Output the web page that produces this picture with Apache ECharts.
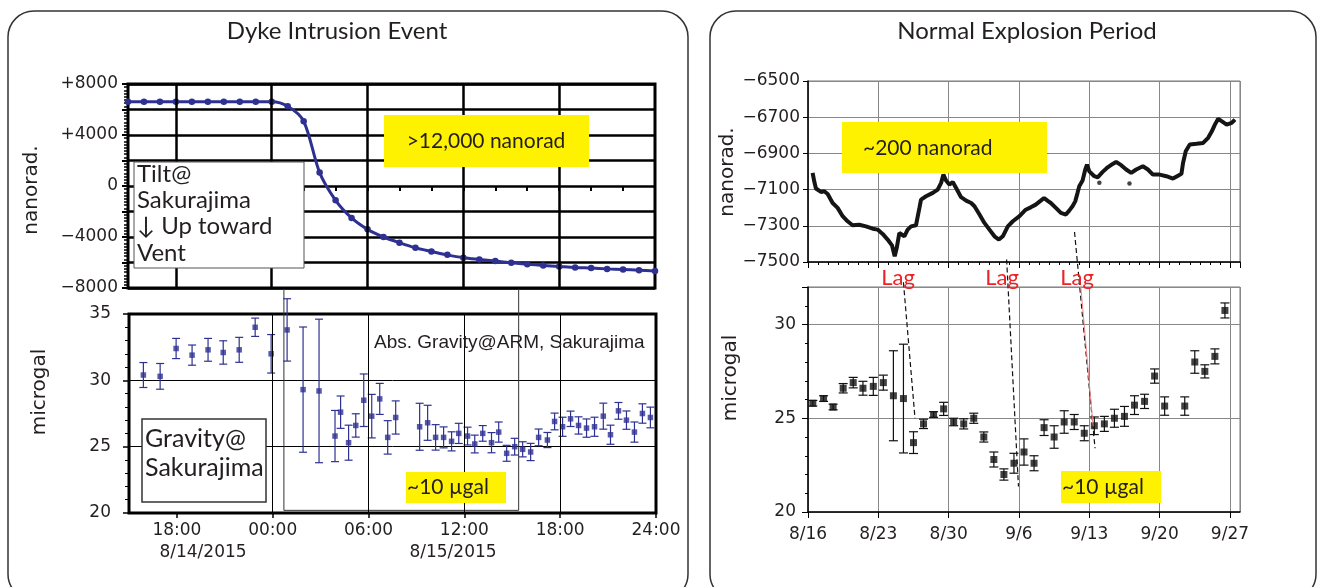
<!DOCTYPE html>
<html>
<head>
<meta charset="utf-8">
<script src="https://cdn.jsdelivr.net/npm/echarts@6/dist/echarts.min.js"></script>
<style>
  html, body { margin: 0; padding: 0; background: #fff; }
  #chart { width: 1324px; height: 587px; }
</style>
</head>
<body>
<div id="chart"></div>
<script>
// ---------- left panel: dyke intrusion (hours counted from 8/14/2015 00:00)
const tiltHours = [15, 16, 17, 18, 19, 20, 21, 22, 23, 24, 25, 26, 27, 28, 29, 30, 31,
  32, 33, 34, 35, 36, 37, 38, 39, 40, 41, 42, 43, 44, 45, 46, 47, 48];
const tiltNanorad = [6600, 6600, 6600, 6600, 6600, 6600, 6600, 6600, 6600, 6600, 6250, 5080,
  1050, -1120, -2500, -3400, -4000, -4450, -4850, -5130, -5400, -5620, -5760, -5890, -6020,
  -6130, -6230, -6310, -6390, -6440, -6500, -6550, -6600, -6660];

const gravHours = [15.9, 16.95, 17.95, 18.95, 19.95, 20.9, 21.9, 22.9, 23.9, 24.9, 25.9, 26.9,
  27.9, 28.25, 28.75, 29.2, 29.7, 30.2, 30.7, 31.2, 31.7, 33.2, 33.7, 34.2, 34.7, 35.2, 35.65,
  36.2, 36.65, 37.15, 37.7, 38.15, 38.65, 39.15, 39.65, 40.15, 40.65, 41.2, 41.65, 42.15, 42.65,
  43.15, 43.65, 44.15, 44.7, 45.15, 45.65, 46.15, 46.65, 47.15, 47.65];
const gravMicrogal = [30.4, 30.3, 32.4, 31.9, 32.3, 32.1, 32.3, 34.0, 32.0, 33.8, 29.3, 29.2,
  25.8, 27.6, 25.3, 26.6, 28.5, 27.3, 28.6, 25.7, 27.2, 26.5, 26.8, 25.7, 25.7, 25.4, 26.0,
  25.8, 25.2, 26.0, 25.3, 26.1, 24.5, 25.0, 24.8, 24.6, 25.7, 25.5, 26.9, 26.5, 27.1,
  26.6, 26.4, 26.5, 27.3, 25.9, 27.7, 27.0, 26.1, 27.5, 27.2];
const gravErr = [0.94, 0.97, 0.76, 0.76, 0.86, 0.88, 0.94, 0.69, 1.45, 2.35, 4.72, 5.41,
  1.93, 1.22, 1.32, 0.88, 1.98, 1.64, 1.17, 1.26, 1.25, 1.77, 1.32, 0.96, 0.79, 0.72, 0.76,
  0.67, 0.67, 0.59, 0.76, 0.76, 0.6, 0.63, 0.57, 0.65, 0.63, 0.57, 0.63, 0.72, 0.58,
  0.65, 0.69, 0.72, 0.98, 0.72, 0.63, 0.69, 0.76, 0.73, 0.78];

const hourLabels = [18, 24, 30, 36, 42, 48];
const hourTicks = [16, 18, 20, 22, 24, 26, 28, 30, 32, 34, 36, 38, 40, 42, 44, 46];
const tiltHourGrid = [18, 24, 30, 36, 42];
const gravHourGrid = [24, 30, 36, 42];
const dateLabels = ['8/14/2015', '8/15/2015'];
// frame left over from the original figure: [fromHour, bottom, toHour, top]
const oldFrame = [24.7, 20.2, 39.4, 36.9];

// ---------- right panel: normal explosion period (days counted from 8/16/2015)
const tiltDays = [0.46, 0.62, 0.79, 1.29, 1.62, 1.96, 2.45, 2.95, 3.45, 3.94, 4.44, 5.1, 5.77,
  6.44, 6.93, 7.43, 7.93, 8.36, 8.63, 8.83, 9.09, 9.59, 9.92, 10.26, 10.75, 11.09, 11.25,
  11.75, 12.42, 12.91, 13.25, 13.48, 13.74, 14.07, 14.41, 14.74, 15.24, 15.74, 16.24, 16.57,
  17.07, 17.56, 18.06, 18.56, 19.0, 19.39, 19.89, 20.39, 21.05, 21.67, 22.17, 22.67, 23.17,
  23.5, 23.83, 24.17, 24.67, 25.17, 25.67, 26.0, 26.33, 26.6, 26.83, 27.0, 27.33, 27.6,
  27.77, 28.0, 28.5, 28.83, 29.33, 29.83, 30.33, 30.67, 31.17, 31.67, 32.17, 32.67, 33.33,
  33.83, 34.33, 35.0, 35.67, 36.33, 36.83, 37.17, 37.33, 37.6, 38.0, 38.67, 39.33, 39.83,
  40.17, 40.5, 40.83, 41.17, 41.67, 42.17, 42.5];
const tiltDayNanorad = [-7008, -7054, -7094, -7113, -7109, -7124, -7174, -7201, -7247, -7275,
  -7297, -7294, -7303, -7316, -7321, -7345, -7376, -7408, -7469, -7423, -7340, -7358, -7321,
  -7303, -7297, -7201, -7155, -7137, -7118, -7100, -7063, -7017, -7050, -7072, -7058, -7091,
  -7142, -7161, -7174, -7192, -7238, -7284, -7321, -7358, -7376, -7358, -7303, -7275, -7247,
  -7211, -7198, -7183, -7161, -7146, -7161, -7174, -7201, -7229, -7238, -7216, -7192, -7165,
  -7118, -7082, -7050, -6989, -6962, -6999, -7026, -7032, -7002, -6977, -6958, -6947, -6965,
  -6989, -7008, -6989, -6971, -6989, -7017, -7017, -7026, -7039, -7023, -7013, -6953, -6888,
  -6851, -6847, -6842, -6814, -6781, -6741, -6709, -6722, -6741, -6731, -6713];
const tiltOutlierDays = [29.0, 32.0];
const tiltOutlierNanorad = [-7062, -7066];

const gravDays = [0.48, 1.55, 2.5, 3.5, 4.5, 5.47, 6.5, 7.5, 8.5, 9.5, 10.5, 11.5, 12.5, 13.5,
  14.5, 15.5, 16.5, 17.5, 18.5, 19.5, 20.5, 21.5, 22.5, 23.5, 24.5, 25.5, 26.5, 27.5, 28.5,
  29.5, 30.5, 31.5, 32.5, 33.5, 34.5, 35.5, 37.5, 38.5, 39.5, 40.5, 41.5];
const gravDayMicrogal = [25.8, 26.05, 25.6, 26.6, 26.9, 26.6, 26.7, 26.9, 26.2, 26.05, 23.7,
  24.7, 25.2, 25.5, 24.8, 24.7, 25.0, 24.0, 22.8, 22.0, 22.6, 23.2, 22.6, 24.5, 24.0, 24.8,
  24.8, 24.2, 24.6, 24.7, 25.0, 25.1, 25.7, 25.9, 27.25, 25.65, 25.65, 28.0, 27.5, 28.3, 30.75];
const gravDayErr = [0.15, 0.15, 0.15, 0.25, 0.28, 0.37, 0.48, 0.4, 2.4, 2.9, 0.58, 0.25, 0.15,
  0.35, 0.2, 0.27, 0.27, 0.27, 0.4, 0.3, 0.53, 0.7, 0.4, 0.42, 0.6, 0.6, 0.4, 0.4, 0.47, 0.4,
  0.48, 0.53, 0.5, 0.38, 0.38, 0.49, 0.49, 0.6, 0.35, 0.4, 0.4];

// dashed "Lag" connectors, [day, microgal] ends (run up into the tilt plot)
const lagLines = [
  [[9.5, 32.25], [10.65, 25.0]],
  [[19.77, 33.47], [20.95, 21.36]],
  [[26.53, 34.93], [28.57, 23.4]]
];
const lagRedLine = [[27.16, 32.0], [28.38, 24.57]];

const BLUE = '#2e3192';
const INK = '#231f20';
const AXIS_FONT = 'DejaVu Sans';
const NOTE_FONT = 'Lato';

function hourLabel(v) {
  if (v === 48) return '24:00';
  const h = v % 24;
  return (h < 10 ? '0' : '') + h + ':00';
}
function dayLabel(v) {
  const d = new Date(2015, 7, 16 + v);
  return (d.getMonth() + 1) + '/' + d.getDate();
}
function tiltLabel(v) {
  if (v % 4000 !== 0) return '';
  if (v === 0) return '0';
  return (v > 0 ? '+' : '\u2212') + Math.abs(v);
}

function errorBars(color, cap) {
  return function (params, api) {
    const x = api.value(0);
    const top = api.coord([x, api.value(2)]);
    const bot = api.coord([x, api.value(1)]);
    const st = { stroke: color, lineWidth: 1.2 };
    return {
      type: 'group',
      children: [
        { type: 'line', shape: { x1: top[0], y1: top[1], x2: bot[0], y2: bot[1] }, style: st },
        { type: 'line', shape: { x1: top[0] - cap, y1: top[1], x2: top[0] + cap, y2: top[1] }, style: st },
        { type: 'line', shape: { x1: bot[0] - cap, y1: bot[1], x2: bot[0] + cap, y2: bot[1] }, style: st }
      ]
    };
  };
}

function vLines(values, width) {
  return {
    silent: true,
    symbol: ['none', 'none'],
    label: { show: false },
    lineStyle: { color: '#000', width: width, type: 'solid' },
    data: values.map(v => ({ xAxis: v }))
  };
}

function note(x, y, text, size, extra) {
  return Object.assign({ type: 'text', z: 11, x: x, y: y,
    style: Object.assign({ text: text, align: 'center', verticalAlign: 'middle',
      fontFamily: NOTE_FONT, fontSize: size, fill: INK }, extra && extra.style) },
    extra && extra.el);
}

const zip = (a, b) => a.map((v, i) => [v, b[i]]);

var myChart = echarts.init(document.getElementById('chart'));

const option = {
  animation: false,
  backgroundColor: '#fff',
  grid: [
    { left: 128, top: 84, width: 527, height: 204, show: true, borderColor: '#000', borderWidth: 3 },
    { left: 129, top: 314, width: 527, height: 199, show: true, borderColor: '#000', borderWidth: 3 },
    { left: 808, top: 81, width: 432, height: 181, show: true, borderColor: '#777', borderWidth: 1 },
    { left: 808, top: 287, width: 432, height: 225, show: true, borderColor: '#777', borderWidth: 1 }
  ],
  xAxis: [
    {
      gridIndex: 0, type: 'value', min: 15, max: 48,
      axisLine: { show: false },
      axisTick: { show: true, customValues: hourTicks, length: 5, lineStyle: { color: '#000', width: 2 } },
      axisLabel: { show: false },
      splitLine: { show: false }
    },
    {
      gridIndex: 1, type: 'value', min: 15, max: 48,
      axisLine: { show: false },
      axisTick: { show: true, customValues: hourLabels, length: 5, lineStyle: { color: '#000', width: 1.5 } },
      axisLabel: {
        customValues: hourLabels, formatter: hourLabel, margin: 9,
        fontFamily: AXIS_FONT, fontSize: 17, color: INK
      },
      splitLine: { show: false }
    },
    {
      gridIndex: 2, type: 'value', min: 0, max: 43, interval: 7,
      axisLine: { lineStyle: { color: '#000', width: 1.5 } },
      axisTick: { length: 6, lineStyle: { color: '#000' } },
      minorTick: { show: true, splitNumber: 7, length: 3, lineStyle: { color: '#000' } },
      axisLabel: { show: false },
      splitLine: { lineStyle: { color: '#888', width: 1 } }
    },
    {
      gridIndex: 3, type: 'value', min: 0, max: 43, interval: 7,
      axisLine: { lineStyle: { color: '#000', width: 1.5 } },
      axisTick: { length: 6, lineStyle: { color: '#000' } },
      axisLabel: {
        formatter: dayLabel, showMaxLabel: false, margin: 14,
        fontFamily: AXIS_FONT, fontSize: 17, color: INK
      },
      splitLine: { lineStyle: { color: '#888', width: 1 } }
    }
  ],
  yAxis: [
    {
      gridIndex: 0, type: 'value', min: -8000, max: 8000, interval: 2000,
      axisLine: { show: false },
      axisTick: { length: 6, lineStyle: { color: '#000', width: 2 } },
      minorTick: { show: true, splitNumber: 8, length: 4, lineStyle: { color: '#000', width: 1.5 } },
      axisLabel: { formatter: tiltLabel, margin: 10, fontFamily: AXIS_FONT, fontSize: 17, color: INK },
      splitLine: { lineStyle: { color: '#000', width: 2.5 } }
    },
    {
      gridIndex: 1, type: 'value', min: 20, max: 35, interval: 5,
      axisLine: { show: false },
      axisTick: { length: 6, lineStyle: { color: '#000', width: 1.5 } },
      minorTick: { show: true, splitNumber: 5, length: 4, lineStyle: { color: '#000' } },
      axisLabel: { margin: 18, fontFamily: AXIS_FONT, fontSize: 17, color: INK },
      splitLine: { lineStyle: { color: '#000', width: 1 } }
    },
    {
      gridIndex: 2, type: 'value', min: -7500, max: -6500, interval: 200,
      axisLine: { lineStyle: { color: '#000', width: 1.5 } },
      axisTick: { length: 5, lineStyle: { color: '#000' } },
      axisLabel: {
        formatter: v => String(v).replace('-', '\u2212'), margin: 8,
        fontFamily: AXIS_FONT, fontSize: 17, color: INK
      },
      splitLine: { lineStyle: { color: '#888', width: 1 } }
    },
    {
      gridIndex: 3, type: 'value', min: 20, max: 32, interval: 5,
      axisLine: { lineStyle: { color: '#000', width: 1.5 } },
      axisTick: { length: 6, lineStyle: { color: '#000' } },
      minorTick: { show: true, splitNumber: 5, length: 3, lineStyle: { color: '#000' } },
      axisLabel: { showMaxLabel: false, margin: 12, fontFamily: AXIS_FONT, fontSize: 17, color: INK },
      splitLine: { lineStyle: { color: '#888', width: 1 } }
    }
  ],
  series: [
    // left tilt
    { type: 'line', xAxisIndex: 0, yAxisIndex: 0, data: [], z: 1, markLine: vLines(tiltHourGrid, 2.5) },
    {
      name: 'tilt', type: 'line', xAxisIndex: 0, yAxisIndex: 0, z: 3,
      data: zip(tiltHours, tiltNanorad), smooth: 0.3,
      symbol: 'circle', symbolSize: 6.5,
      itemStyle: { color: BLUE }, lineStyle: { color: BLUE, width: 3 }
    },
    // left gravity
    { type: 'line', xAxisIndex: 1, yAxisIndex: 1, data: [], z: 1, markLine: vLines(gravHourGrid, 1) },
    {
      type: 'custom', xAxisIndex: 1, yAxisIndex: 1, clip: false, z: 1, silent: true,
      data: [oldFrame],
      renderItem: function (params, api) {
        const a = api.coord([api.value(0), api.value(3)]);
        const b = api.coord([api.value(2), api.value(1)]);
        return {
          type: 'polyline',
          shape: { points: [[a[0], a[1]], [a[0], b[1]], [b[0], b[1]], [b[0], a[1]]] },
          style: { stroke: '#333', lineWidth: 1, fill: null }
        };
      }
    },
    {
      type: 'custom', xAxisIndex: 1, yAxisIndex: 1, clip: false, z: 3,
      encode: { x: 0, y: [1, 2] },
      data: gravHours.map((h, i) => [h, gravMicrogal[i] - gravErr[i], gravMicrogal[i] + gravErr[i]]),
      renderItem: errorBars(BLUE, 4)
    },
    {
      type: 'scatter', xAxisIndex: 1, yAxisIndex: 1, z: 4,
      data: zip(gravHours, gravMicrogal), symbol: 'rect', symbolSize: 5.5,
      itemStyle: { color: BLUE }
    },
    // right tilt
    {
      type: 'line', xAxisIndex: 2, yAxisIndex: 2, z: 3,
      data: zip(tiltDays, tiltDayNanorad), symbol: 'none',
      lineStyle: { color: '#151515', width: 4 }
    },
    {
      type: 'scatter', xAxisIndex: 2, yAxisIndex: 2, z: 3,
      data: zip(tiltOutlierDays, tiltOutlierNanorad), symbolSize: 4.5,
      itemStyle: { color: '#151515' }
    },
    // right gravity
    {
      type: 'custom', xAxisIndex: 3, yAxisIndex: 3, clip: false, z: 3,
      encode: { x: 0, y: [1, 2] },
      data: gravDays.map((d, i) => [d, gravDayMicrogal[i] - gravDayErr[i], gravDayMicrogal[i] + gravDayErr[i]]),
      renderItem: errorBars('#111', 4.5)
    },
    {
      type: 'scatter', xAxisIndex: 3, yAxisIndex: 3, z: 4,
      data: zip(gravDays, gravDayMicrogal), symbol: 'rect', symbolSize: 7,
      itemStyle: { color: '#111' }
    },
    ...lagLines.map(seg => ({
      type: 'line', xAxisIndex: 3, yAxisIndex: 3, clip: false, z: 5, silent: true,
      data: seg, symbol: 'none',
      lineStyle: { color: '#111', width: 1.2, type: [5, 3] }
    })),
    {
      type: 'line', xAxisIndex: 3, yAxisIndex: 3, clip: false, z: 5, silent: true,
      data: lagRedLine, symbol: 'none',
      lineStyle: { color: '#f08a8a', width: 1 }
    }
  ],
  graphic: [
    // panel frames
    { type: 'rect', z: 0, shape: { x: 8, y: 11, width: 680, height: 589, r: 26 },
      style: { fill: null, stroke: '#333', lineWidth: 1.5 } },
    { type: 'rect', z: 0, shape: { x: 710, y: 11, width: 606, height: 589, r: 26 },
      style: { fill: null, stroke: '#333', lineWidth: 1.5 } },
    // titles
    note(337, 31, 'Dyke Intrusion Event', 24),
    note(1027, 31, 'Normal Explosion Period', 24),
    // axis names
    note(32, 190, 'nanorad.', 20, { el: { rotation: Math.PI / 2 }, style: { fontFamily: AXIS_FONT } }),
    note(40, 392, 'microgal', 20, { el: { rotation: Math.PI / 2 }, style: { fontFamily: AXIS_FONT } }),
    note(728, 172, 'nanorad.', 20, { el: { rotation: Math.PI / 2 }, style: { fontFamily: AXIS_FONT } }),
    note(731, 378, 'microgal', 20, { el: { rotation: Math.PI / 2 }, style: { fontFamily: AXIS_FONT } }),
    // date lines under the hour labels
    note(203, 553, dateLabels[0], 17, { style: { fontFamily: AXIS_FONT } }),
    note(453, 553, dateLabels[1], 17, { style: { fontFamily: AXIS_FONT } }),
    // left annotations
    { type: 'rect', z: 10, shape: { x: 134, y: 162, width: 170, height: 106 },
      style: { fill: '#fff', stroke: '#555', lineWidth: 1 } },
    note(137, 161, 'Tilt@\nSakurajima\n\u2193 Up toward\nVent', 24,
      { style: { align: 'left', verticalAlign: 'top', lineHeight: 26.3 } }),
    { type: 'rect', z: 10, shape: { x: 384, y: 115, width: 205, height: 52 }, style: { fill: '#fff200' } },
    note(486, 141, '>12,000 nanorad', 21),
    note(374, 343, 'Abs. Gravity@ARM, Sakurajima', 19,
      { style: { align: 'left', fontFamily: 'Liberation Sans' } }),
    { type: 'rect', z: 10, shape: { x: 142, y: 419, width: 124, height: 83 },
      style: { fill: '#fff', stroke: '#333', lineWidth: 1.5 } },
    note(145, 425, 'Gravity@\nSakurajima', 25,
      { style: { align: 'left', verticalAlign: 'top', lineHeight: 28.5 } }),
    { type: 'rect', z: 10, shape: { x: 406, y: 472, width: 100, height: 31 }, style: { fill: '#fff200' } },
    note(407, 487, '~10 \u00b5gal', 21, { style: { align: 'left' } }),
    // right annotations
    { type: 'rect', z: 10, shape: { x: 842, y: 122, width: 205, height: 51 }, style: { fill: '#fff200' } },
    note(863, 148, '~200 nanorad', 21, { style: { align: 'left' } }),
    { type: 'rect', z: 10, shape: { x: 1061, y: 471, width: 100, height: 32 }, style: { fill: '#fff200' } },
    note(1062, 487, '~10 \u00b5gal', 21, { style: { align: 'left' } }),
    note(898, 278, 'Lag', 22, { style: { fill: '#ec2227' } }),
    note(1002, 278, 'Lag', 22, { style: { fill: '#ec2227' } }),
    note(1077, 278, 'Lag', 22, { style: { fill: '#ec2227' } })
  ]
};

option && myChart.setOption(option);
</script>
</body>
</html>
